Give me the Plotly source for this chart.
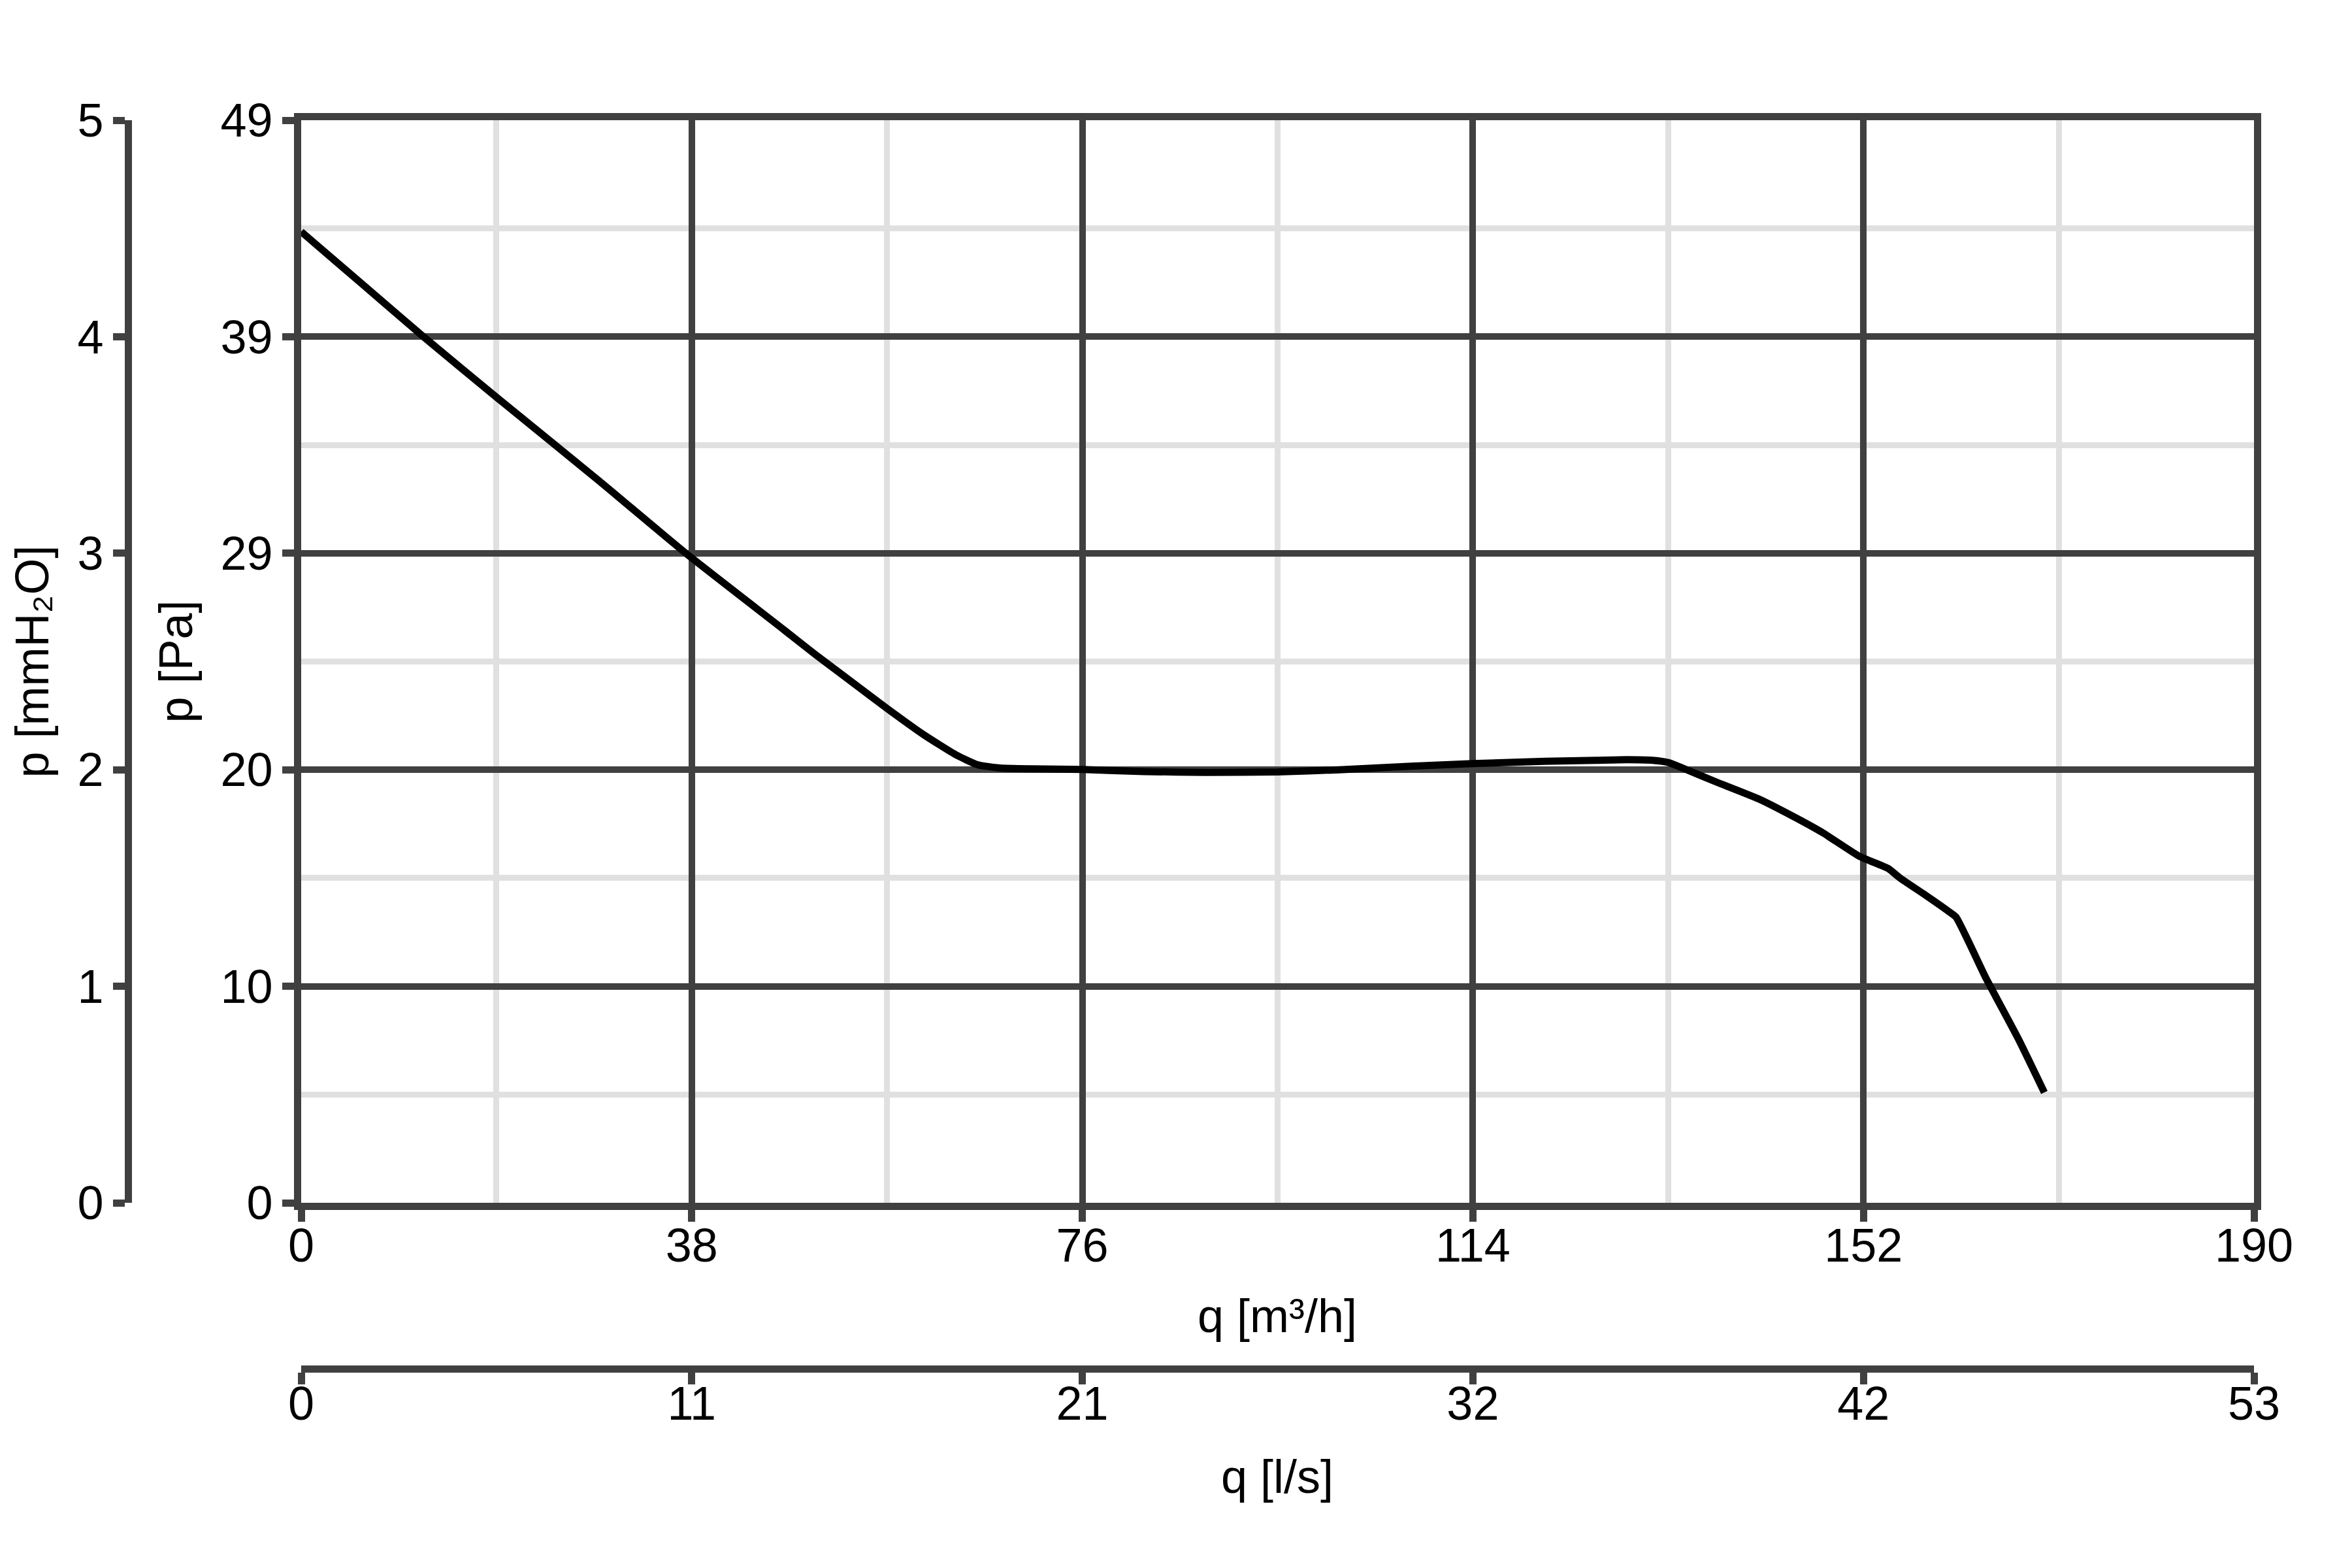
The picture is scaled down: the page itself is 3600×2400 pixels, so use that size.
import plotly.graph_objects as go

# ---- data ----
q_m3h = [0, 6, 12, 19, 29, 37.5, 47, 50, 54, 57, 60.6, 63.7, 65.8, 68, 71, 76, 82, 88, 95,
         101, 108, 114, 121, 126, 129, 131.5, 133, 134.4, 137.5, 141.8, 144.9, 148.1,
         151.6, 154.4, 155.6, 158, 160.3, 161, 163.9, 167.1, 169.6]
p_pa = [44.0, 41.6, 39.2, 36.5, 32.7, 29.4, 25.95, 24.85, 23.45, 22.4, 21.2, 20.3, 19.85, 19.7,
        19.66, 19.63, 19.54, 19.5, 19.52, 19.62, 19.78, 19.9, 20.0, 20.05, 20.08, 20.05, 19.95,
        19.7, 19.1, 18.3, 17.57, 16.75, 15.7, 15.15, 14.7, 13.95, 13.2, 12.95, 10.2, 7.4, 5.0]

x_ticks_m3h = [0, 38, 76, 114, 152, 190]
x_minor_m3h = [19, 57, 95, 133, 171]
x_ticks_ls_labels = ["0", "11", "21", "32", "42", "53"]
p_mm_ticks = [0, 1, 2, 3, 4, 5]
p_pa_labels = ["0", "10", "20", "29", "39", "49"]

PA_PER_MM = 9.81
LS_PER_M3H = 1 / 3.6

W, H = 3600, 2400
DARK = "#404040"
LIGHT = "#e0e0e0"
FONT = "Liberation Sans, Arial, sans-serif"
FS = 72

x_left, x_right = 453, 3442
y_top, y_bot = 176, 1833

pa_ticks = [v * PA_PER_MM for v in p_mm_ticks]
pa_minor = [(v + 0.5) * PA_PER_MM for v in p_mm_ticks[:-1]]
ls_ticks = [v * LS_PER_M3H for v in x_ticks_m3h]

fig = go.Figure()
fig.add_trace(go.Scatter(x=q_m3h, y=p_pa, mode="lines",
                         line=dict(color="black", width=11, shape="spline", smoothing=0.5),
                         showlegend=False, hoverinfo="skip"))
# invisible helper traces so the secondary axes are rendered
fig.add_trace(go.Scatter(x=[v * LS_PER_M3H for v in q_m3h], y=p_pa, xaxis="x2", yaxis="y",
                         mode="lines", line=dict(width=0), opacity=0, showlegend=False,
                         hoverinfo="skip"))
fig.add_trace(go.Scatter(x=q_m3h, y=[v / PA_PER_MM for v in p_pa], xaxis="x", yaxis="y2",
                         mode="lines", line=dict(width=0), opacity=0, showlegend=False,
                         hoverinfo="skip"))

axis_common = dict(showline=True, linecolor=DARK, linewidth=11, ticks="outside",
                   ticklen=18, tickwidth=11, tickcolor=DARK, zeroline=False,
                   tickfont=dict(family=FONT, size=FS, color="black"), automargin=False)

fig.update_layout(
    width=W, height=H, autosize=False,
    margin=dict(l=0, r=0, t=0, b=0, pad=0),
    paper_bgcolor="white", plot_bgcolor="white",
    xaxis=dict(domain=[x_left / W, x_right / W], range=[0, 190],
               tickmode="array", tickvals=x_ticks_m3h, ticktext=[str(v) for v in x_ticks_m3h],
               showgrid=True, gridcolor=DARK, gridwidth=10, mirror=True,
               ticklabelstandoff=-25,
               minor=dict(tickmode="array", tickvals=x_minor_m3h, showgrid=True,
                          gridcolor=LIGHT, gridwidth=9, ticks=""),
               **axis_common),
    yaxis=dict(domain=[1 - y_bot / H, 1 - y_top / H], range=[0, 5 * PA_PER_MM],
               tickmode="array", tickvals=pa_ticks, ticktext=p_pa_labels,
               showgrid=True, gridcolor=DARK, gridwidth=10, mirror=True,
               minor=dict(tickmode="array", tickvals=pa_minor, showgrid=True,
                          gridcolor=LIGHT, gridwidth=9, ticks=""),
               **axis_common),
    xaxis2=dict(overlaying="x", anchor="free", position=1 - 2087 / H,
                range=[0, 190 * LS_PER_M3H], tickmode="array", tickvals=ls_ticks,
                ticktext=x_ticks_ls_labels, showgrid=False, ticklabelstandoff=-32,
                **axis_common),
    yaxis2=dict(overlaying="y", anchor="free", position=188 / W, side="left",
                range=[0, 5], tickmode="array", tickvals=p_mm_ticks,
                ticktext=[str(v) for v in p_mm_ticks], showgrid=False, **axis_common),
)

title_font = dict(family=FONT, size=FS, color="black")
cx = (x_left + x_right) / 2 / W
cy = 1 - (y_top + y_bot) / 2 / H
ann = dict(xref="paper", yref="paper", showarrow=False, font=title_font,
           xanchor="center", yanchor="middle", borderpad=0)
fig.add_annotation(text="p [mmH₂O]", x=0, y=cy, textangle=-90,
                   **{**ann, "xanchor": "left"})
fig.add_annotation(text="p [Pa]", x=261 / W, y=cy, textangle=-90, **ann)
fig.add_annotation(text="q [m³/h]", x=cx, y=1 - 2006 / H, **ann)
fig.add_annotation(text="q [l/s]", x=cx, y=1 - 2252 / H, **ann)

fig.write_html("out.html")
